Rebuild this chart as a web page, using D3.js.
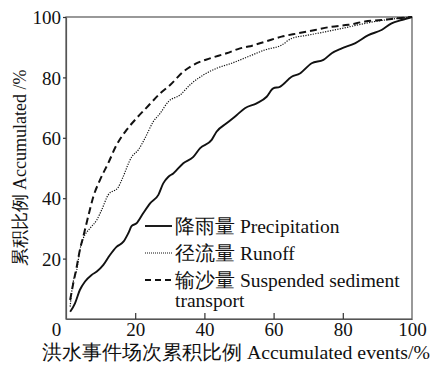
<!DOCTYPE html>
<html>
<head>
<meta charset="utf-8">
<script src="https://cdn.jsdelivr.net/npm/d3@7"></script>
<style>
  body { margin: 0; background: #fff; }
</style>
</head>
<body>
<div class="graph"></div>
<script>
// cumulative share (%) vs cumulative share of flood events (%)
var precipX = [1.2, 2.6, 4.0, 5.5, 7.4, 8.9, 10.8, 12.7, 14.6, 16.6, 18.0, 19.0, 20.4, 22.3, 24.3, 26.7, 28.1, 29.6,
	31.0, 33.9, 36.8, 38.7, 42.1, 43.5, 46.4, 49.3, 51.7, 55.1, 58.0, 59.9, 61.8, 65.2, 67.6, 71.0, 74.4, 76.8,
	79.7, 83.5, 87.4, 91.2, 94.1, 97.0, 100];
var precipY = [2.4, 5.2, 9.6, 12.4, 14.6, 15.7, 17.9, 21.2, 23.9, 25.6, 28.4, 30.8, 31.7, 35.0, 38.3, 41.1, 44.9, 47.1,
	48.2, 51.6, 53.7, 56.5, 59.3, 62.0, 64.8, 67.5, 69.8, 71.4, 73.6, 76.4, 76.9, 80.2, 81.3, 84.7, 85.8, 88.0,
	89.6, 91.3, 94.0, 95.7, 97.9, 99.0, 100];

var runoffX = [1.2, 1.6, 2.1, 3.1, 4.0, 5.0, 6.9, 8.9, 10.3, 12.2, 15.1, 16.1, 19.0, 20.9, 22.8, 25.2, 27.2, 29.6,
	33.0, 35.8, 39.7, 43.5, 47.9, 52.7, 57.5, 62.3, 65.2, 70.0, 74.9, 79.7, 84.5, 89.3, 94.1, 100];
var runoffY = [4.1, 8.5, 12.4, 16.2, 22.8, 26.7, 30.0, 32.8, 36.1, 41.1, 43.6, 46.0, 53.7, 56.0, 59.8, 65.3, 68.1, 72.0,
	74.2, 77.5, 80.8, 83.0, 84.7, 86.9, 89.1, 90.7, 92.9, 94.0, 95.1, 96.2, 97.4, 98.5, 99.3, 100];

var sedimentX = [1.2, 2.1, 3.1, 4.0, 5.0, 6.4, 7.9, 9.8, 12.2, 14.6, 17.5, 20.4, 23.8, 27.2, 30.1, 33.9, 37.8, 41.6,
	46.4, 50.3, 52.7, 57.5, 62.3, 67.1, 72.0, 76.8, 81.6, 86.4, 91.2, 96.0, 100];
var sedimentY = [6.3, 11.8, 17.3, 22.8, 27.3, 33.9, 40.5, 46.0, 51.6, 57.6, 62.6, 66.5, 70.6, 74.7, 77.5, 81.9, 84.7, 86.3,
	88.0, 89.6, 90.2, 91.8, 93.5, 94.6, 95.7, 96.8, 97.4, 98.5, 99.0, 99.6, 100];

var seriesNames = ["降雨量 Precipitation", "径流量 Runoff", "输沙量 Suspended sediment"];
var xTicks = [0, 20, 40, 60, 80, 100];
var yTicks = [20, 40, 60, 80, 100];
var xTitle = "洪水事件场次累积比例 Accumulated events/%";
var yTitle = "累积比例 Accumulated /%";

var FONT = "Liberation Serif";

//shrink or grow a text's font so that it spans the given length
var fitText = function (sel, target, size) {
	sel.attr("font-size", size);
	var len = sel.node().getComputedTextLength();
	if (len > 0) {
		sel.attr("font-size", Math.max(14, Math.min(22, size * target / len)));
	}
};

var drawGraph = function () {
	var width = 430, height = 367,
		margin = {top: 17, right: 18, bottom: 48, left: 66},
		plotW = width - margin.left - margin.right,
		plotH = height - margin.top - margin.bottom;

	var svg = d3.select(".graph").append("svg")
		.attr("width", width)
		.attr("height", height);

	var g = svg.append("g")
		.attr("transform", "translate(" + margin.left + "," + margin.top + ")");

	var xScale = d3.scaleLinear().domain([0, 100]).range([0, plotW]);
	var yScale = d3.scaleLinear().domain([0, 100]).range([plotH, 0]);

	//frame
	g.append("rect")
		.attr("x", 0).attr("y", 0)
		.attr("width", plotW).attr("height", plotH)
		.attr("fill", "none")
		.attr("stroke", "#555")
		.attr("stroke-width", 1.2);

	//x axis, ticks point inwards
	var xAxis = g.append("g")
		.attr("transform", "translate(0," + plotH + ")")
		.call(d3.axisBottom(xScale).tickValues(xTicks).tickSize(-6).tickPadding(3).tickSizeOuter(0))
		.attr("font-family", FONT)
		.attr("font-size", 19);
	xAxis.select(".domain").attr("stroke", "#555").attr("stroke-width", 1.2);
	xAxis.selectAll(".tick line").attr("stroke", "#333").attr("stroke-width", 1.2)
		.filter(function (d) { return d == 0 || d == 100; }).remove();
	xAxis.selectAll(".tick text")
		.attr("fill", "#111")
		.attr("dx", function (d) { return d == 0 ? -10 : 0; });

	//y axis, ticks point outwards
	var yAxis = g.append("g")
		.call(d3.axisLeft(yScale).tickValues(yTicks).tickSize(3).tickPadding(2).tickSizeOuter(0))
		.attr("font-family", FONT)
		.attr("font-size", 19);
	yAxis.select(".domain").attr("stroke", "#555").attr("stroke-width", 1.2);
	yAxis.selectAll(".tick line").attr("stroke", "#333").attr("stroke-width", 1.2);
	yAxis.selectAll(".tick text")
		.attr("fill", "#111")
		.attr("dy", "0.35em");

	//axis titles
	var xLab = svg.append("text")
		.attr("x", 42).attr("y", 359)
		.attr("font-family", FONT)
		.attr("fill", "#111")
		.text(xTitle);
	fitText(xLab, 386, 19);

	var yLab = svg.append("text")
		.attr("transform", "translate(26,168) rotate(-90)")
		.attr("text-anchor", "middle")
		.attr("font-family", FONT)
		.attr("fill", "#111")
		.text(yTitle);
	fitText(yLab, 197, 18);

	//curves
	var line = d3.line()
		.x(function (d) { return xScale(d[0]); })
		.y(function (d) { return yScale(d[1]); })
		.curve(d3.curveMonotoneX);

	var styles = [
		{w: 1.9, dash: null},
		{w: 1.2, dash: "1.2,1.3"},
		{w: 2, dash: "7,4"}
	];
	var series = [
		d3.zip(precipX, precipY),
		d3.zip(runoffX, runoffY),
		d3.zip(sedimentX, sedimentY)
	];

	series.forEach(function (s, i) {
		g.append("path")
			.datum(s)
			.attr("d", line)
			.attr("fill", "none")
			.attr("stroke", "#111")
			.attr("stroke-width", styles[i].w)
			.attr("stroke-dasharray", styles[i].dash);
	});

	//legend
	var legendRows = [226, 253, 280];
	var legend = svg.append("g").attr("class", "legend")
		.attr("font-family", FONT)
		.attr("font-size", 19.5);
	seriesNames.forEach(function (name, i) {
		legend.append("line")
			.attr("x1", 145).attr("x2", 172)
			.attr("y1", legendRows[i]).attr("y2", legendRows[i])
			.attr("stroke", "#111")
			.attr("stroke-width", i == 1 ? 1 : 1.9)
			.attr("stroke-dasharray", i == 0 ? null : (i == 1 ? "1,1" : "6,4"));
		legend.append("text")
			.attr("x", 175).attr("y", legendRows[i])
			.attr("dy", "0.35em")
			.attr("fill", "#111")
			.text(name);
	});
	legend.append("text")
		.attr("x", 175).attr("y", 300)
		.attr("dy", "0.35em")
		.attr("fill", "#111")
		.text("transport");
};

drawGraph();
</script>
</body>
</html>
